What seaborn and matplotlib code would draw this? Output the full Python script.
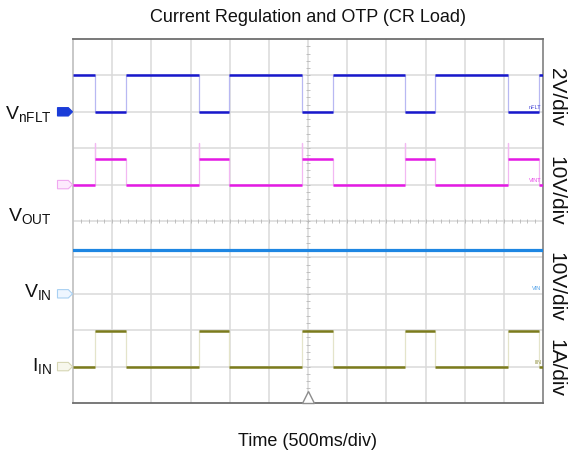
import numpy as np
import pandas as pd
import matplotlib
matplotlib.use("Agg")
import matplotlib.pyplot as plt
from matplotlib.patches import Polygon
import seaborn as sns

# ---- data -------------------------------------------------------------
# timebase: 500 ms/div, 12 divisions -> 0 .. 6 s
t_end = 6.0
fault_start = [0.281, 1.608, 2.923, 4.238, 5.553]   # s, nFLT falls / OTP trips
fault_end = [0.677, 1.991, 3.319, 4.621, 5.945]     # s, nFLT recovers

channels = ["nFLT", "VINT", "VIN", "IIN"]
ch_offset_div = [8, 6, 3, 1]          # ground marker position (div)
ch_scale = [2.0, 10.0, 10.0, 1.0]      # units per div
ch_unit = ["2V/div", "10V/div", "10V/div", "1A/div"]

nflt_levels = [2.0, 0.0]       # V, normal / fault
vint_levels = [0.0, 6.9]       # V, normal / fault
vint_spike = 11.5              # V, overshoot at fault entry
vin_level = 12.0               # V
iin_levels = [0.0, 0.97]       # A, normal / fault

left_labels = [r"V$_{\mathrm{nFLT}}$", r"V$_{\mathrm{OUT}}$", r"V$_{\mathrm{IN}}$", r"I$_{\mathrm{IN}}$"]
left_label_y = [7.80, 5.00, 2.92, 0.89]   # div

title = "Current Regulation and OTP (CR Load)"
xlabel = "Time (500ms/div)"

# ---- style ------------------------------------------------------------
sns.set_style("white")
plt.rcParams["font.family"] = ["Liberation Sans", "DejaVu Sans"]
plt.rcParams["mathtext.fontset"] = "custom"
plt.rcParams["mathtext.rm"] = "Liberation Sans"
plt.rcParams["mathtext.it"] = "Liberation Sans"

col_trace = ["#1818cc", "#e41ae4", "#1e86e2", "#7b7b1c"]
col_edge = ["#b8b8f2", "#f2b8f2", "#b8d8f4", "#e4e4ca"]


def step_wave(levels, spike=None):
    """Build a step waveform (time, value) from the fault edges."""
    t, v = [0.0], [levels[0]]
    for a, b in zip(fault_start, fault_end):
        t += [a, a]
        v += [levels[0], spike if spike is not None else levels[1]]
        if spike is not None:
            t += [a]
            v += [levels[1]]
        t += [b, b]
        v += [levels[1], levels[0]]
    t.append(t_end)
    v.append(levels[0])
    return np.array(t), np.array(v)


def segments(levels):
    """Horizontal plateaus of the waveform: (start, stop, level)."""
    edges = [0.0]
    for a, b in zip(fault_start, fault_end):
        edges += [a, b]
    edges.append(t_end)
    segs = []
    for i in range(len(edges) - 1):
        segs.append((edges[i], edges[i + 1], levels[i % 2]))
    return segs


fig = plt.figure(figsize=(5.72, 4.68), dpi=100)
ax = fig.add_axes([73 / 572, 1 - 403 / 468, 470 / 572, 364 / 468])
ax.set_xlim(0, t_end)
ax.set_ylim(0, 10)

# graticule
for gx in np.arange(0.5, t_end, 0.5):
    ax.axvline(gx, color="#dadada", lw=1.1, zorder=0)
for gy in range(1, 10):
    ax.axhline(gy, color="#dadada", lw=1.1, zorder=0)
# centre cross minor ticks
minor_x = np.arange(0.1, t_end, 0.1)
ax.plot(minor_x, np.full_like(minor_x, 5.0), ls="none", marker="|",
        ms=3.5, mew=0.6, color="#b8b8b8", zorder=1)
minor_y = np.arange(0.2, 10, 0.2)
ax.plot(np.full_like(minor_y, 3.0), minor_y, ls="none", marker="_",
        ms=3.5, mew=0.6, color="#b8b8b8", zorder=1)

# traces
wave_defs = [
    (nflt_levels, None),
    (vint_levels, vint_spike),
    (None, None),
    (iin_levels, None),
]
for i, (levels, spike) in enumerate(wave_defs):
    off, sc = ch_offset_div[i], ch_scale[i]
    if levels is None:
        df = pd.DataFrame({"t": [0.0, t_end], "v": [vin_level, vin_level]})
        df["div"] = off + df["v"] / sc
        sns.lineplot(data=df, x="t", y="div", ax=ax, color=col_trace[i],
                     lw=2.3, estimator=None, sort=False, zorder=3)
        continue
    t, v = step_wave(levels, spike)
    df = pd.DataFrame({"t": t, "div": off + v / sc})
    sns.lineplot(data=df, x="t", y="div", ax=ax, color=col_edge[i], lw=0.9,
                 estimator=None, sort=False, zorder=2)
    for a, b, lev in segments(levels):
        ax.hlines(off + lev / sc, a, b, color=col_trace[i], lw=1.8, zorder=3)

# channel tags on the left edge
tag_fill = ["#1a3cd8", "#fdeafd", "#eef6ff", "#f7f7ec"]
tag_edge = ["#1a3cd8", "#f0a8f0", "#a8d0f2", "#d6d6b4"]
tag_text = ["white", "#e070e0", "#6aaae8", "#a8a878"]
trans = ax.get_yaxis_transform()
for i in range(4):
    y0 = ch_offset_div[i]
    h = 0.115
    pts = [(-0.033, y0 - h), (-0.010, y0 - h), (-0.001, y0),
           (-0.010, y0 + h), (-0.033, y0 + h)]
    ax.add_patch(Polygon(pts, closed=True, transform=trans, clip_on=False,
                         facecolor=tag_fill[i], edgecolor=tag_edge[i], lw=0.8, zorder=5))
    ax.text(-0.020, y0, f"C{i + 1}", transform=trans, fontsize=4.5,
            color=tag_text[i], ha="center", va="center", clip_on=False)

# channel names at the right edge
small_y = [8.05, 6.05, 3.08, 1.05]
for i, name in enumerate(channels):
    ax.text(0.997, small_y[i], name, transform=trans, fontsize=4,
            color=col_trace[i], alpha=0.8, ha="right", va="bottom")

# trigger marker
ax.plot([3.0], [0.17], marker="^", ms=9, mfc="white", mec="#8c8c8c",
        mew=1.0, ls="none", zorder=6, clip_on=False)

# frame
for side, c in [("top", "#6e6e6e"), ("bottom", "#6e6e6e"),
                ("right", "#8a8a8a"), ("left", "#c4c4c4")]:
    ax.spines[side].set_visible(True)
    ax.spines[side].set_color(c)
    ax.spines[side].set_linewidth(1.3)
ax.set_xticks([])
ax.set_yticks([])
ax.set_xlabel("")
ax.set_ylabel("")

# signal labels on the left
for lab, y in zip(left_labels, left_label_y):
    ax.text(-0.045, y, lab, transform=trans, fontsize=14, ha="right",
            va="baseline", color="#111111")

# volts/div annotations on the right
unit_y_px = [97, 191, 287, 368]
for u, ypx in zip(ch_unit, unit_y_px):
    fig.text(556 / 572, 1 - ypx / 468, u, rotation=-90, fontsize=15,
             ha="center", va="center", color="#111111")

fig.text(308 / 572, 1 - 17 / 468, title, fontsize=13, ha="center",
         va="center", color="#111111")
fig.text(308 / 572, 1 - 441 / 468, xlabel, fontsize=13, ha="center",
         va="center", color="#111111")

fig.savefig("out.png", dpi=100)
